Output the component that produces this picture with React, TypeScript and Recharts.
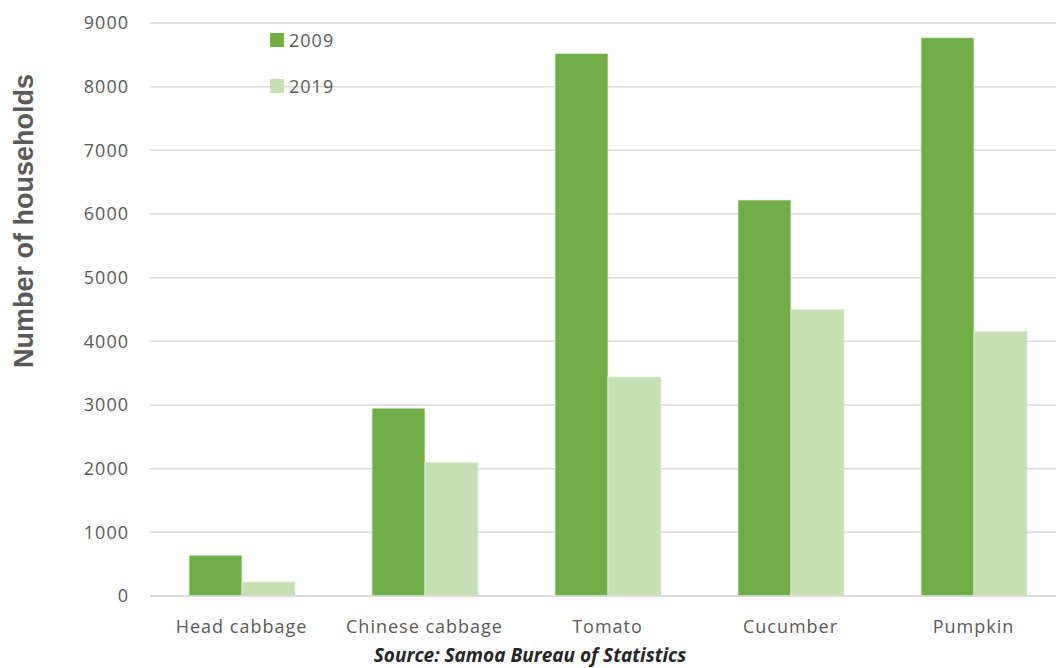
import { BarChart, Bar, XAxis, YAxis, CartesianGrid, Legend } from 'recharts'

const crops = ['Head cabbage', 'Chinese cabbage', 'Tomato', 'Cucumber', 'Pumpkin']
const households2009 = [640, 2950, 8520, 6220, 8770]
const households2019 = [220, 2100, 3440, 4500, 4160]
const yTicks = [0, 1000, 2000, 3000, 4000, 5000, 6000, 7000, 8000, 9000]

const C2009 = '#70AD47'
const C2019 = '#C5E0B4'
const TEXT = '#595959'
const FONT = '"Open Sans", "Liberation Sans", sans-serif'

const data = crops.map((crop, i) => ({
  crop,
  y2009: households2009[i],
  y2019: households2019[i],
}))

function LegendBox({ payload }: any) {
  if (!payload?.length) return null
  return (
    <ul style={{ listStyle: 'none', margin: 0, padding: 0 }}>
      {payload.map((entry: any) => (
        <li
          key={entry.value}
          style={{ display: 'flex', alignItems: 'center', height: 46, fontFamily: FONT, fontSize: 18, color: TEXT }}
        >
          <span style={{ width: 14, height: 14, background: entry.color, marginRight: 5, display: 'inline-block' }} />
          <span style={{ letterSpacing: 1 }}>{entry.value}</span>
        </li>
      ))}
    </ul>
  )
}

// rotated title, centred on the plot area (23..596)
function AxisTitle() {
  const x = 33
  const y = 221
  return (
    <text
      x={x}
      y={y}
      transform={`rotate(-90, ${x}, ${y})`}
      textAnchor="middle"
      fill={TEXT}
      fontSize={27}
      fontWeight="bold"
      fontFamily='"Liberation Sans", Arial, sans-serif'
    >
      Number of households
    </text>
  )
}

export default function App() {
  return (
    <div
      style={{
        position: 'absolute',
        left: 0,
        top: 0,
        width: 1056,
        height: 668,
        overflow: 'hidden',
        background: '#fff',
      }}
    >
      <BarChart
        width={1070}
        height={668}
        data={data}
        margin={{ top: 23, right: 5, bottom: 22, left: 0 }}
        barCategoryGap="21.3%"
        barGap={0}
      >
        <CartesianGrid vertical={false} stroke="#d9d9d9" strokeWidth={1.5} />
        <XAxis
          dataKey="crop"
          height={50}
          tickLine={false}
          tickSize={0}
          tickMargin={24}
          axisLine={{ stroke: '#d9d9d9', strokeWidth: 1.5 }}
          tick={{ fill: TEXT, fontSize: 18, fontFamily: FONT, letterSpacing: 1 }}
        />
        <YAxis
          width={150}
          domain={[0, 9000]}
          ticks={yTicks}
          interval={0}
          tickLine={false}
          axisLine={false}
          tickSize={0}
          tickMargin={21}
          tick={{ fill: TEXT, fontSize: 18, fontFamily: FONT, letterSpacing: 1 }}
          label={{ content: <AxisTitle /> }}
        />
        <Legend
          layout="vertical"
          verticalAlign="middle"
          align="center"
          content={<LegendBox />}
          wrapperStyle={{ position: 'absolute', left: 270, top: 17, width: 120, height: 92 }}
        />
        <Bar dataKey="y2009" name="2009" fill={C2009} stroke="#e2f0d9" strokeWidth={0.75} isAnimationActive={false} />
        <Bar dataKey="y2019" name="2019" fill={C2019} stroke="#e2f0d9" strokeWidth={0.75} isAnimationActive={false} />
      </BarChart>
      <div
        style={{
          position: 'absolute',
          left: 0,
          width: 1060,
          top: 643,
          lineHeight: '25px',
          textAlign: 'center',
          fontFamily: FONT,
          fontSize: 19,
          fontWeight: 'bold',
          fontStyle: 'italic',
          color: '#262626',
          whiteSpace: 'nowrap',
        }}
      >
        Source: Samoa Bureau of Statistics
      </div>
    </div>
  )
}
